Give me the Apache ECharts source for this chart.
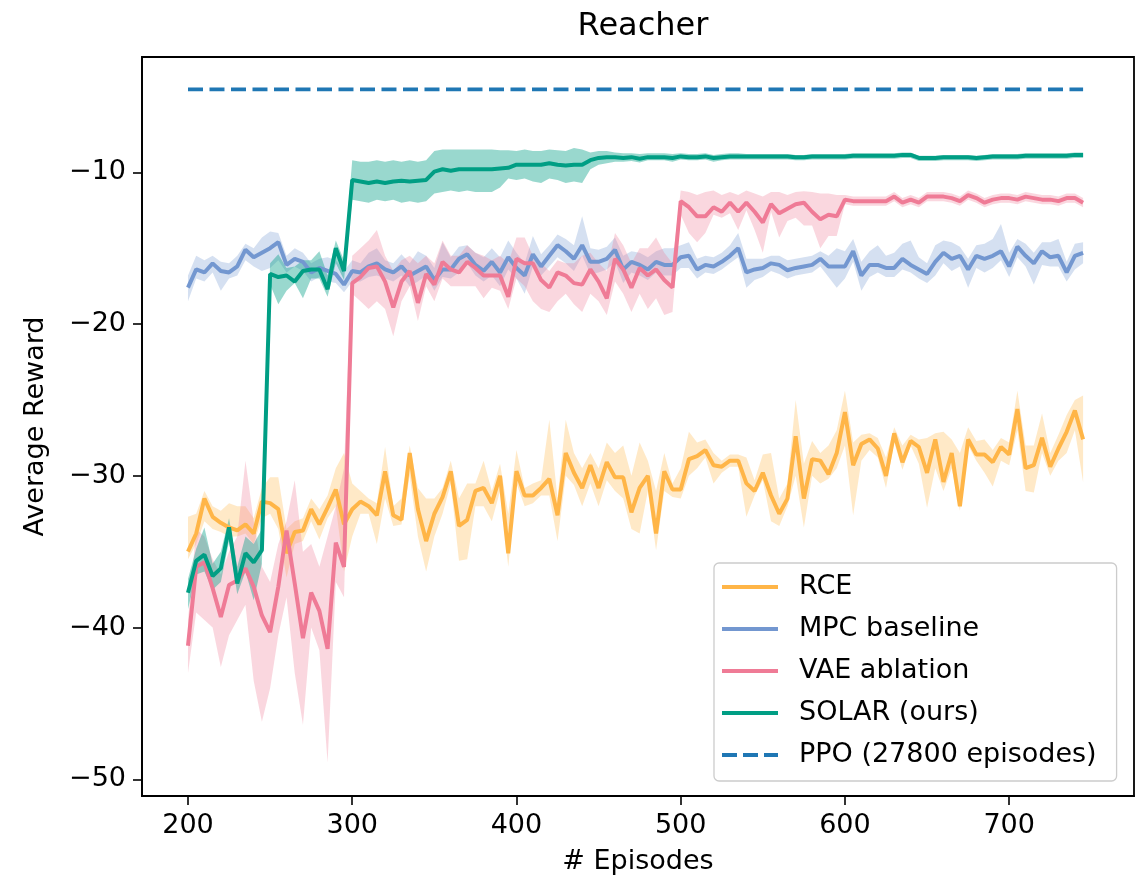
<!DOCTYPE html>
<html>
<head>
<meta charset="utf-8">
<title>Reacher</title>
<script src="https://cdn.jsdelivr.net/npm/echarts@6.0.0/dist/echarts.min.js"></script>
<style>
  html, body { margin: 0; padding: 0; background: #fff; }
  #chart { width: 1145px; height: 880px; }
</style>
</head>
<body>
<div id="chart"></div>
<script>
// episodes 200..745, one point every 5 episodes
const episodes = [];
for (let e = 200; e <= 745; e += 5) episodes.push(e);

const xTicks = [200, 300, 400, 500, 600, 700];
const yTicks = [-50, -40, -30, -20, -10];

// RCE
const rceMean = [
  -35.0, -33.8, -31.5, -32.7, -33.1, -33.4, -33.6, -33.2, -33.8, -31.7,
  -31.8, -32.2, -35.1, -33.7, -33.6, -32.2, -33.2, -32.1, -30.9, -33.2,
  -32.2, -31.7, -32.0, -32.6, -29.7, -32.6, -32.9, -28.5, -32.2, -34.3,
  -32.5, -31.4, -29.7, -33.3, -32.9, -31.0, -30.8, -31.8, -30.0, -35.1,
  -29.7, -31.3, -31.3, -30.8, -30.2, -32.6, -28.5, -29.8, -30.8, -29.3,
  -30.8, -29.1, -30.1, -30.1, -32.4, -30.8, -30.0, -33.8, -29.7, -30.9,
  -30.9, -28.9, -28.7, -28.3, -29.3, -29.4, -29.0, -29.0, -30.5, -31.0,
  -29.8, -31.3, -32.5, -31.5, -27.4, -31.5, -28.9, -29.0, -29.9, -28.5,
  -25.8, -29.3, -27.9, -27.6, -28.2, -30.0, -27.2, -29.1, -27.7, -28.1,
  -29.8, -27.6, -30.4, -28.5, -32.0, -27.6, -28.6, -28.6, -29.1, -28.1,
  -28.6, -25.6, -29.5, -29.3, -27.5, -29.4, -28.2, -27.1, -25.7, -27.6
];
const rceHi = [
  -32.7, -32.5, -31.0, -32.0, -32.3, -31.8, -32.0, -32.0, -32.8, -30.8,
  -30.1, -30.1, -33.5, -33.0, -32.8, -31.5, -32.2, -31.3, -29.5, -28.5,
  -30.5, -31.0, -31.5, -31.8, -28.1, -32.0, -31.5, -28.0, -30.8, -31.5,
  -31.5, -30.8, -29.0, -31.5, -30.5, -30.5, -29.0, -31.0, -29.2, -32.5,
  -28.3, -30.8, -30.5, -30.3, -26.3, -31.5, -26.3, -28.5, -29.5, -28.5,
  -29.5, -27.8, -28.5, -28.0, -30.0, -27.8, -29.0, -31.0, -28.5, -30.5,
  -29.5, -27.1, -27.8, -27.6, -28.5, -29.0, -28.6, -28.6, -28.8, -30.3,
  -28.6, -28.5, -31.5, -30.5, -25.0, -29.2, -27.7, -28.5, -28.0, -27.0,
  -24.4, -27.8, -27.3, -27.2, -27.5, -28.8, -26.8, -28.0, -27.3, -27.6,
  -27.5, -27.2, -27.1, -27.6, -28.5, -26.8, -27.7, -27.6, -28.3, -27.5,
  -27.8, -24.4, -28.0, -28.0, -25.9, -28.5, -27.3, -26.0, -25.0, -24.7
];
const rceLo = [
  -35.5, -34.5, -33.0, -33.5, -33.7, -34.0, -34.0, -33.8, -34.5, -32.8,
  -32.5, -33.5, -36.7, -34.5, -34.3, -33.0, -34.2, -32.8, -32.0, -36.3,
  -34.0, -32.5, -32.5, -34.5, -31.5, -33.3, -33.2, -30.0, -34.0, -36.3,
  -34.0, -32.5, -30.5, -35.6, -35.5, -32.0, -32.0, -33.0, -31.0, -36.0,
  -30.5, -32.0, -31.8, -31.3, -31.3, -34.3, -30.0, -30.6, -32.0, -30.5,
  -32.0, -30.3, -31.0, -31.5, -33.5, -33.8, -31.0, -34.9, -31.0, -31.4,
  -31.5, -30.0, -29.5, -28.8, -30.5, -29.8, -29.4, -29.4, -32.7, -31.3,
  -30.3, -33.0, -33.3, -32.0, -30.0, -33.4, -30.0, -30.5, -30.2, -29.5,
  -28.0, -32.6, -29.0, -28.3, -28.8, -30.8, -27.8, -29.6, -28.0, -29.2,
  -32.1, -29.5, -31.0, -29.5, -32.3, -28.0, -29.0, -29.8, -30.7, -29.0,
  -29.3, -27.0, -31.0, -31.1, -28.5, -30.0, -29.0, -28.5, -27.0, -30.4
];

// MPC baseline
const mpcMean = [
  -17.6, -16.4, -16.6, -16.0, -16.5, -16.6, -16.2, -15.1, -15.6, -15.3,
  -15.0, -14.6, -16.1, -15.7, -15.9, -16.6, -16.3, -16.5, -16.7, -17.4,
  -16.5, -16.6, -16.2, -16.0, -16.4, -16.6, -16.2, -16.8, -16.5, -16.2,
  -17.1, -16.4, -16.4, -15.7, -15.4, -16.1, -16.5, -15.9, -16.6, -15.6,
  -16.3, -16.8, -15.4, -16.2, -15.5, -14.8, -15.2, -15.7, -14.8, -15.9,
  -15.9, -15.7, -15.1, -16.4, -15.9, -16.1, -16.4, -15.9, -16.1, -16.1,
  -15.6, -15.5, -16.4, -16.1, -16.2, -15.9, -15.5, -15.0, -16.6, -16.4,
  -16.3, -16.0, -16.1, -16.45, -16.3, -16.2, -16.1, -15.7, -16.2, -16.2,
  -16.2, -15.2, -16.8, -16.1, -16.1, -16.3, -16.3, -15.7, -16.1, -16.4,
  -16.7, -15.9, -15.3, -15.7, -15.5, -16.4, -15.5, -15.7, -15.5, -15.2,
  -16.2, -14.9, -15.5, -16.0, -15.2, -15.6, -15.5, -16.6, -15.5, -15.3
];
const mpcHi = [
  -16.8, -15.5, -15.8, -15.5, -15.9, -16.0, -15.5, -14.7, -15.0, -14.3,
  -13.9, -14.0, -15.5, -15.0, -15.3, -16.0, -15.7, -15.6, -15.8, -16.5,
  -15.8, -16.0, -15.3, -15.0, -15.8, -16.0, -15.4, -16.0, -15.2, -15.5,
  -16.3, -14.6, -15.6, -14.9, -14.8, -15.3, -15.6, -15.0, -15.6, -14.5,
  -15.3, -16.0, -14.2, -15.4, -14.8, -14.1, -14.4, -14.8, -12.9, -15.0,
  -15.1, -14.9, -14.3, -15.5, -15.2, -15.3, -15.6, -15.2, -15.0, -15.0,
  -14.8, -14.6, -15.7, -15.5, -15.6, -15.3, -14.8, -14.0, -15.7, -15.7,
  -15.7, -15.5, -15.5, -15.8, -15.7, -15.6, -15.5, -15.2, -15.5, -15.0,
  -15.2, -14.4, -15.9, -15.2, -14.8, -15.5, -15.3, -14.7, -14.5, -15.6,
  -16.0, -14.8, -14.5, -14.6, -14.9, -15.7, -14.8, -14.7, -14.4, -13.4,
  -15.3, -14.4, -14.7, -15.3, -14.6, -14.6, -14.4, -15.9, -14.7, -14.6
];
const mpcLo = [
  -18.5, -17.0, -17.2, -16.6, -17.8, -17.0, -16.8, -15.8, -16.2, -16.5,
  -16.3, -15.8, -16.6, -16.2, -16.5, -17.2, -16.9, -17.2, -17.3, -17.9,
  -17.2, -17.2, -16.9, -16.8, -17.0, -17.2, -16.8, -17.5, -17.2, -16.8,
  -17.8, -16.9, -17.0, -16.6, -16.0, -16.8, -17.2, -16.8, -17.5, -16.4,
  -17.0, -18.0, -16.2, -16.8, -16.2, -15.6, -16.0, -16.5, -15.5, -16.7,
  -16.6, -16.4, -15.9, -17.3, -16.6, -16.8, -17.1, -16.6, -16.8, -16.8,
  -16.3, -16.3, -17.0, -16.6, -16.7, -16.4, -16.0, -15.6, -17.6, -17.1,
  -16.9, -16.5, -16.7, -17.0, -16.8, -16.7, -16.6, -16.2, -16.9, -17.6,
  -17.0, -15.9, -17.8, -16.9, -16.6, -16.9, -16.9, -16.4, -16.6, -17.0,
  -17.3, -16.8, -16.0, -16.5, -16.2, -17.6, -16.3, -16.6, -16.3, -15.8,
  -16.9, -15.6, -16.2, -17.4, -16.1, -16.2, -16.2, -17.2, -16.4, -16.0
];

// VAE ablation
const vaeMean = [
  -41.2, -36.0, -35.7, -37.4, -39.3, -37.2, -36.9, -36.1, -37.3, -39.2,
  -40.3, -37.3, -33.6, -37.1, -40.7, -37.7, -38.9, -41.4, -34.4, -36.0,
  -17.3, -16.9, -16.3, -16.2, -17.2, -18.9, -17.2, -16.5, -18.6, -16.7,
  -17.4, -15.9, -16.4, -16.6, -15.9, -16.3, -16.8, -16.8, -16.8, -18.2,
  -15.7, -16.0, -16.0, -17.1, -17.6, -16.6, -16.8, -17.3, -17.4, -16.4,
  -17.2, -18.3, -15.7, -16.4, -17.6, -16.3, -16.8, -16.4, -17.1, -17.6,
  -11.9, -12.3, -12.9, -12.9, -12.3, -12.6, -12.0, -12.6, -12.0, -12.6,
  -13.3, -12.1, -12.7, -12.4, -12.1, -12.0, -12.6, -13.1, -12.8, -12.9,
  -11.8, -11.9, -11.9, -11.9, -11.9, -11.9, -11.6, -12.0, -11.8, -12.0,
  -11.6, -11.6, -11.6, -11.7, -11.9, -11.5, -11.7, -12.0, -11.8, -11.7,
  -11.7, -11.8, -11.6, -11.7, -11.8, -11.8, -11.9, -11.7, -11.7, -12.0
];
const vaeHi = [
  -39.5, -33.5, -34.0, -35.5, -36.5, -35.0, -34.0, -29.0, -33.0, -36.0,
  -37.0, -34.5, -33.0, -30.3, -35.0, -34.5, -36.0, -34.0, -32.0, -29.5,
  -15.5, -15.0, -14.5, -13.8, -15.5, -16.5, -15.8, -15.5, -16.0, -15.5,
  -16.0, -14.5, -15.5, -15.5, -14.8, -15.3, -15.5, -15.8, -15.5, -16.0,
  -14.3, -14.3, -15.5, -16.0, -16.5, -15.8, -16.0, -16.0, -15.5, -15.3,
  -16.0, -16.5, -14.0, -14.8, -16.0, -15.0, -15.0, -14.3, -15.3, -16.0,
  -11.2, -11.3, -11.5, -11.3, -11.2, -11.5, -11.3, -11.5, -11.2, -11.4,
  -11.6, -11.3, -11.3, -11.5, -11.3, -11.25, -11.3, -11.4, -11.4, -11.5,
  -11.5, -11.6, -11.6, -11.6, -11.6, -11.6, -11.3, -11.7, -11.5, -11.7,
  -11.3, -11.3, -11.3, -11.4, -11.6, -11.2, -11.4, -11.7, -11.5, -11.4,
  -11.4, -11.5, -11.3, -11.4, -11.5, -11.5, -11.6, -11.4, -11.4, -11.7
];
const vaeLo = [
  -43.0, -39.0, -39.5, -40.0, -42.6, -40.5, -39.5, -38.5, -43.5, -46.2,
  -44.0, -40.5, -38.0, -43.0, -46.4, -40.0, -41.5, -48.9, -37.0, -38.0,
  -18.0, -18.5, -19.0, -18.5, -19.0, -20.8, -18.5, -17.5, -19.8, -17.5,
  -18.5, -17.0, -17.5, -17.5, -17.5, -17.5, -18.3, -17.6, -17.8, -19.0,
  -17.0, -17.5, -18.5, -19.0, -19.2, -18.5, -18.0, -18.7, -19.2, -18.0,
  -18.5, -19.4, -17.2, -18.0, -19.2, -18.0, -19.0, -18.3, -19.4, -19.2,
  -12.8, -14.0, -14.6, -14.0, -12.8, -13.0, -12.7, -13.8, -12.5, -13.8,
  -15.3, -12.6, -14.3, -13.2, -13.0, -13.5, -13.5, -15.0, -14.2, -14.2,
  -12.1, -12.2, -12.2, -12.2, -12.2, -12.2, -11.9, -12.3, -12.1, -12.3,
  -11.9, -11.9, -11.9, -12.0, -12.2, -11.8, -12.0, -12.3, -12.1, -12.0,
  -12.0, -12.1, -11.9, -12.0, -12.1, -12.1, -12.2, -12.0, -12.0, -12.3
];

// SOLAR (ours)
const solarMean = [
  -37.7, -35.6, -35.2, -36.6, -36.1, -33.4, -37.1, -35.1, -35.7, -34.9,
  -16.7, -16.9, -16.8, -17.2, -16.5, -16.4, -16.4, -17.7, -15.0, -16.5,
  -10.5, -10.6, -10.7, -10.6, -10.7, -10.6, -10.55, -10.6, -10.55, -10.5,
  -9.95, -9.8, -9.9, -9.8, -9.8, -9.8, -9.8, -9.8, -9.75, -9.7,
  -9.5, -9.5, -9.5, -9.5, -9.4, -9.5, -9.55, -9.5, -9.5, -9.2,
  -9.05, -9.0, -9.0, -9.05, -9.0, -9.1, -9.0, -9.0, -9.0, -9.05,
  -8.95, -9.0, -9.0, -8.95, -9.05, -9.0, -8.95, -8.95, -8.95, -8.95,
  -8.95, -8.95, -8.95, -8.95, -9.0, -9.0, -8.95, -8.95, -8.95, -8.95,
  -8.95, -8.9, -8.9, -8.9, -8.9, -8.9, -8.9, -8.85, -8.85, -9.05,
  -9.05, -9.05, -9.0, -9.0, -9.0, -9.0, -9.05, -9.0, -8.95, -8.95,
  -8.95, -8.95, -8.9, -8.9, -8.9, -8.9, -8.9, -8.9, -8.85, -8.85
];
const solarHi = [
  -36.8, -34.8, -33.4, -35.8, -35.0, -32.8, -36.0, -34.0, -34.5, -33.5,
  -16.0, -15.4, -16.3, -16.2, -15.8, -15.8, -15.2, -16.8, -14.5, -15.8,
  -9.2, -9.3, -9.3, -9.2, -9.3, -9.2, -9.3, -9.2, -9.3, -9.2,
  -8.6, -8.5, -8.5, -8.5, -8.5, -8.5, -8.5, -8.5, -8.55, -8.55,
  -8.6, -8.5, -8.6, -8.6, -8.5, -8.55, -8.6, -8.4, -8.5, -8.7,
  -8.6, -8.6, -8.7, -8.75, -8.75, -8.8, -8.75, -8.75, -8.75, -8.8,
  -8.75, -8.8, -8.8, -8.75, -8.85, -8.8, -8.75, -8.75, -8.8, -8.8,
  -8.8, -8.8, -8.8, -8.8, -8.85, -8.85, -8.8, -8.8, -8.8, -8.8,
  -8.8, -8.75, -8.75, -8.75, -8.75, -8.75, -8.75, -8.7, -8.7, -8.9,
  -8.9, -8.9, -8.85, -8.85, -8.85, -8.85, -8.9, -8.85, -8.8, -8.8,
  -8.8, -8.8, -8.75, -8.75, -8.75, -8.75, -8.75, -8.75, -8.7, -8.7
];
const solarLo = [
  -38.8, -36.5, -36.3, -37.5, -37.0, -34.3, -37.8, -36.3, -38.2, -35.8,
  -17.4, -18.7, -17.8, -17.3, -18.3, -17.0, -17.0, -18.2, -16.0, -17.1,
  -11.8, -11.9, -12.0, -11.8, -11.9, -11.8, -12.0, -11.9, -12.0, -11.9,
  -11.4, -11.3, -11.2, -11.3, -11.2, -11.3, -11.3, -11.3, -11.0, -10.4,
  -10.5, -10.4, -10.6, -10.7, -10.4, -10.5, -10.7, -10.6, -10.7, -9.8,
  -9.5, -9.4, -9.3, -9.3, -9.25, -9.35, -9.2, -9.2, -9.2, -9.3,
  -9.15, -9.2, -9.2, -9.15, -9.3, -9.2, -9.15, -9.15, -9.15, -9.15,
  -9.15, -9.15, -9.15, -9.15, -9.2, -9.2, -9.15, -9.15, -9.15, -9.15,
  -9.15, -9.1, -9.1, -9.1, -9.1, -9.1, -9.1, -9.05, -9.05, -9.25,
  -9.25, -9.25, -9.2, -9.2, -9.2, -9.2, -9.25, -9.2, -9.15, -9.15,
  -9.15, -9.15, -9.1, -9.1, -9.1, -9.1, -9.1, -9.1, -9.05, -9.05
];

// PPO final reward after 27800 episodes
const ppoReward = -4.53;

const FONT = 'DejaVu Sans';
const LINE_ICON = 'path://M0,0H56V4H0Z';
const DASH_ICON = 'path://M0,0H15V4H0Z M21,0H36V4H21Z M42,0H56V4H42Z';

function pairs(values) {
    return episodes.map((e, i) => [e, values[i]]);
}

// shaded band between lo and hi, drawn as one polygon through the axes
function bandSeries(name, lo, hi, fill) {
    return {
        name: name + ' band',
        type: 'custom',
        coordinateSystem: 'cartesian2d',
        silent: true,
        data: episodes.map((e, i) => [e, lo[i], hi[i]]),
        encode: { x: 0, y: [1, 2] },
        renderItem(params, api) {
            if (params.dataIndex !== 0) return;
            const n = params.dataInsideLength;
            const top = [], bottom = [];
            for (let i = 0; i < n; i++) {
                bottom.push(api.coord([api.value(0, i), api.value(1, i)]));
                top.push(api.coord([api.value(0, i), api.value(2, i)]));
            }
            return {
                type: 'polygon',
                shape: { points: bottom.concat(top.reverse()) },
                style: { fill: fill }
            };
        }
    };
}

function lineSeries(name, mean, color) {
    return {
        name: name,
        type: 'line',
        data: pairs(mean),
        symbol: 'none',
        showSymbol: false,
        lineStyle: { color: color, width: 4 },
        itemStyle: { color: color }
    };
}

const chart = echarts.init(document.getElementById('chart'));
chart.setOption({
    animation: false,
    backgroundColor: '#fff',
    title: {
        text: 'Reacher',
        left: 638,
        textAlign: 'center',
        top: 6,
        textStyle: { fontFamily: FONT, fontSize: 32, fontWeight: 'normal', color: '#000' }
    },
    grid: {
        left: 142, top: 57, right: 11, bottom: 84,
        show: true, borderColor: '#000', borderWidth: 1.8
    },
    legend: {
        data: [
            { name: 'RCE', icon: LINE_ICON },
            { name: 'MPC baseline', icon: LINE_ICON },
            { name: 'VAE ablation', icon: LINE_ICON },
            { name: 'SOLAR (ours)', icon: LINE_ICON },
            { name: 'PPO (27800 episodes)', icon: DASH_ICON }
        ],
        orient: 'vertical',
        left: 714,
        top: 563,
        itemWidth: 56,
        itemHeight: 4,
        itemGap: 14,
        padding: [10, 20, 12, 8],
        backgroundColor: 'rgba(255,255,255,0.8)',
        borderColor: '#cccccc',
        borderWidth: 1.3,
        borderRadius: 5,
        textStyle: { fontFamily: FONT, fontSize: 27, color: '#000', lineHeight: 28, padding: [0, 0, 0, 16] }
    },
    xAxis: {
        type: 'value',
        min: 172,
        max: 776,
        name: '# Episodes',
        nameLocation: 'middle',
        nameGap: 52,
        nameTextStyle: { fontFamily: FONT, fontSize: 27, color: '#000' },
        axisLine: { show: true, lineStyle: { color: '#000', width: 1.8 } },
        axisTick: { show: true, length: 9, customValues: xTicks, lineStyle: { color: '#000', width: 1.6 } },
        axisLabel: { customValues: xTicks, fontFamily: FONT, fontSize: 27, color: '#000', margin: 16 },
        splitLine: { show: false }
    },
    yAxis: {
        type: 'value',
        min: -51.1,
        max: -2.4,
        name: 'Average Reward',
        nameLocation: 'middle',
        nameGap: 93,
        nameTextStyle: { fontFamily: FONT, fontSize: 27, color: '#000' },
        axisLine: { show: true, lineStyle: { color: '#000', width: 1.8 } },
        axisTick: { show: true, length: 9, customValues: yTicks, lineStyle: { color: '#000', width: 1.6 } },
        axisLabel: {
            customValues: yTicks, fontFamily: FONT, fontSize: 27, color: '#000', margin: 16,
            formatter: v => (v < 0 ? '\u2212' : '') + Math.abs(v)
        },
        splitLine: { show: false }
    },
    series: [
        bandSeries('RCE', rceLo, rceHi, 'rgba(255,181,71,0.3)'),
        lineSeries('RCE', rceMean, '#ffb547'),
        bandSeries('MPC baseline', mpcLo, mpcHi, 'rgba(115,151,208,0.3)'),
        lineSeries('MPC baseline', mpcMean, '#7397d0'),
        bandSeries('VAE ablation', vaeLo, vaeHi, 'rgba(239,123,150,0.3)'),
        lineSeries('VAE ablation', vaeMean, '#ef7b96'),
        bandSeries('SOLAR (ours)', solarLo, solarHi, 'rgba(0,158,132,0.4)'),
        lineSeries('SOLAR (ours)', solarMean, '#009e84'),
        {
            name: 'PPO (27800 episodes)',
            type: 'line',
            data: [[episodes[0], ppoReward], [episodes[episodes.length - 1], ppoReward]],
            symbol: 'none',
            lineStyle: { color: '#1f77b4', width: 3.7, type: [15, 6.5] },
            itemStyle: { color: '#1f77b4' }
        }
    ]
});
</script>
</body>
</html>
